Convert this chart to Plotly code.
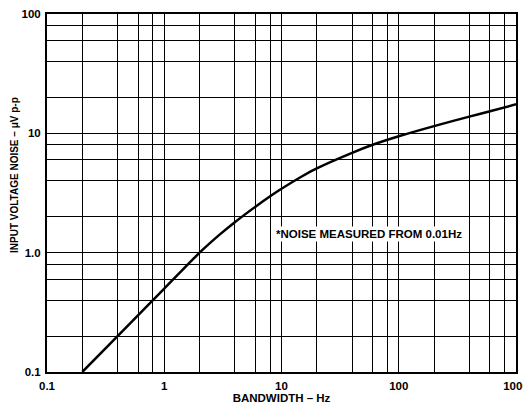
import plotly.graph_objects as go

bandwidth_hz = [0.2, 0.4, 1, 2, 3, 4, 6, 8, 10, 15, 20, 40, 60, 100, 200, 400, 600, 1000]
noise_uvpp = [0.1, 0.2, 0.5, 1.0, 1.43, 1.80, 2.43, 2.97, 3.43, 4.37, 5.09, 6.87, 8.02, 9.45, 11.5, 13.8, 15.3, 17.5]

x_grid = [m * 10 ** e for e in range(-1, 3) for m in (1, 2, 4, 6, 8)] + [1000]
x_labels = {0.1: "0.1", 1: "1", 10: "10", 100: "100", 1000: "1000"}
y_grid = [m * 10 ** e for e in range(-1, 2) for m in (1, 2, 4, 6, 8)] + [100]
y_labels = {0.1: "0.1", 1: "1.0", 10: "10", 100: "100"}

def lab(v, d):
    for k, t in d.items():
        if abs(v - k) < 1e-9 * max(1, k):
            return t
    return ""

FAM = "Liberation Sans, Arial, sans-serif"
font = dict(family=FAM, size=11.5, color="black", weight="bold")

# page body has an 8px offset; target plot box in window pixels
OFF = 8
WIN_W, WIN_H = 531, 405
PL, PR, PT, PB = 47, 516, 14, 372
W, H = WIN_W - OFF, WIN_H - OFF
pw, ph = PR - PL, PB - PT

def px(x):
    return (x - PL) / pw

def py(y):
    return 1 - (y - PT) / ph

fig = go.Figure()
fig.add_trace(go.Scatter(x=bandwidth_hz, y=noise_uvpp, mode="lines",
                         line=dict(color="black", width=2.5, shape="spline", smoothing=0.6),
                         showlegend=False, hoverinfo="skip"))

fig.add_annotation(x=px(274), y=py(234), xref="paper", yref="paper",
                   text="*NOISE MEASURED FROM 0.01Hz",
                   showarrow=False, font=dict(family=FAM, size=11.5, color="black", weight="bold"),
                   bgcolor="white", xanchor="left", yanchor="middle")

fig.add_annotation(x=px(14), y=py(175), xref="paper", yref="paper",
                   text="INPUT VOLTAGE NOISE – μV p-p", textangle=-90,
                   showarrow=False, font=dict(family=FAM, size=10, color="black", weight="bold"),
                   xanchor="center", yanchor="middle")

fig.update_layout(
    width=W, height=H,
    margin=dict(l=PL - OFF, r=WIN_W - PR, t=PT - OFF, b=WIN_H - PB, autoexpand=False),
    paper_bgcolor="white", plot_bgcolor="white",
    font=font,
    xaxis=dict(type="log", range=[-1, 3], tickvals=x_grid, automargin=False,
               ticktext=[lab(v, x_labels) for v in x_grid], ticklabeloverflow="allow",
               showgrid=True, gridcolor="black", gridwidth=1.3,
               showline=True, linecolor="black", linewidth=2, mirror=True,
               ticks="", ticklabelstandoff=2, zeroline=False,
               title=dict(text="BANDWIDTH – Hz", standoff=2, font=dict(size=11.5))),
    yaxis=dict(type="log", range=[-1, 2], tickvals=y_grid, automargin=False,
               ticktext=[lab(v, y_labels) for v in y_grid],
               showgrid=True, gridcolor="black", gridwidth=1.3,
               showline=True, linecolor="black", linewidth=2, mirror=True,
               ticks="", ticklabelstandoff=2, zeroline=False),
)

fig.write_html("out.html")
